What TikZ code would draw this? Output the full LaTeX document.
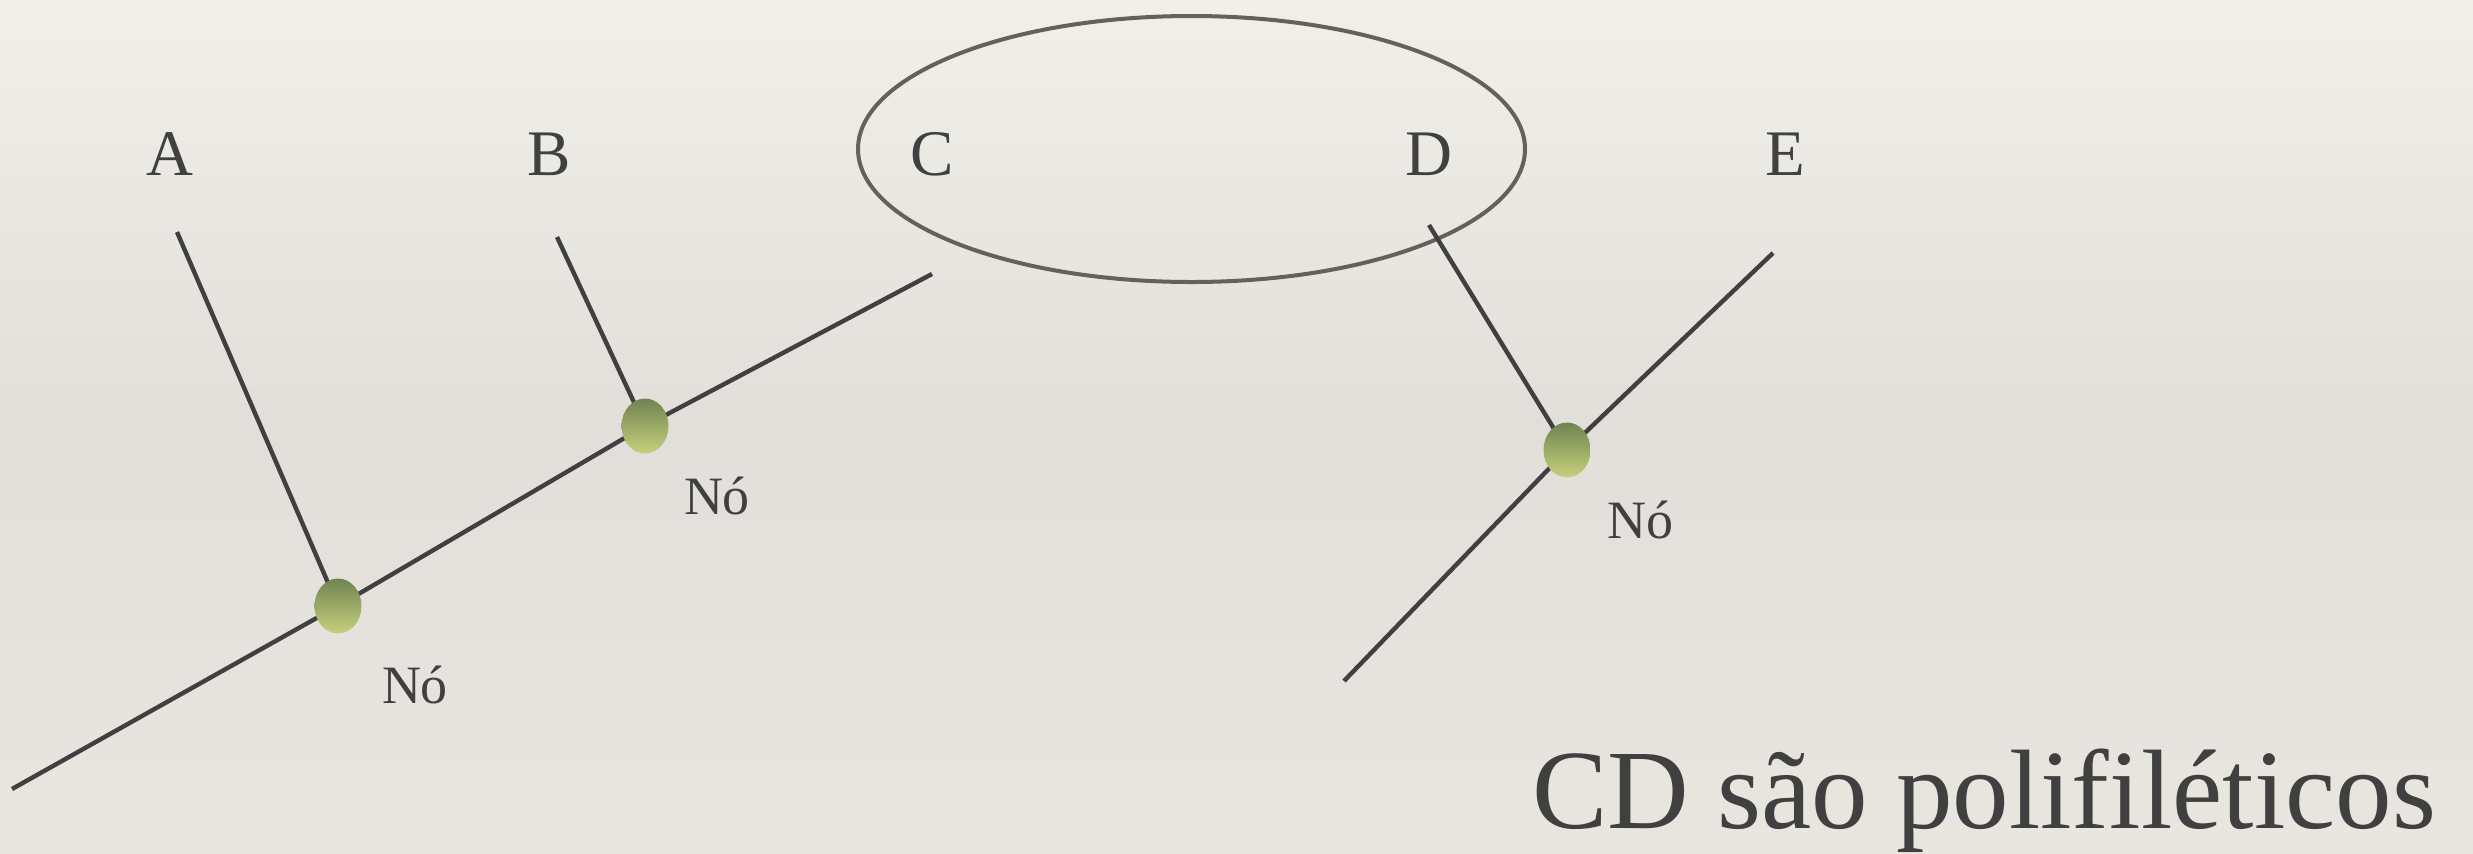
\documentclass[tikz,border=0pt]{standalone}
\usepackage{fontspec}
\setmainfont{Liberation Serif}
\usetikzlibrary{shapes.geometric}
\definecolor{bgtop}{RGB}{241,239,233}
\definecolor{bgmid}{RGB}{226,223,219}
\definecolor{bgbot}{RGB}{233,230,224}
\definecolor{ink}{RGB}{64,64,64}
\definecolor{ringcol}{RGB}{100,97,92}
\definecolor{nodetop}{RGB}{112,132,82}
\definecolor{nodebot}{RGB}{198,208,122}
\tikzset{
  branch/.style={draw=ink, line width=2.2pt},
  knot/.style={ellipse, minimum width=23.5pt, minimum height=27.5pt, inner sep=0pt, top color=nodetop, bottom color=nodebot, draw=none},
  taxon/.style={text=ink, font=\fontsize{32.5}{38}\selectfont, anchor=base, inner sep=0pt},
  knotlabel/.style={text=ink, font=\fontsize{27}{32}\selectfont, anchor=base, inner sep=0pt},
  ring/.style={ellipse, draw=ringcol, line width=2pt, minimum width=333.5pt, minimum height=133pt, inner sep=0pt},
}
\begin{document}
\begin{tikzpicture}[x=0.5pt, y=-0.5pt]
\useasboundingbox (0,0) rectangle (2473,853);
\shade[top color=bgtop, bottom color=bgbot, middle color=bgmid] (0,0) rectangle (2473,853);
% ellipse around C and D
\node[ring] (grp) at (1191.5,149) {};
% taxa labels
\node[taxon] (A) at (170,175) {A};
\node[taxon] (B) at (549,175) {B};
\node[taxon] (C) at (932,175) {C};
\node[taxon] (D) at (1429,175) {D};
\node[taxon] (E) at (1785,175) {E};
% branch ends
\coordinate (root) at (12,789);
\coordinate (cend) at (932,274);
\coordinate (atop) at (177,232);
\coordinate (btop) at (557,237);
\coordinate (dtop) at (1429,225);
\coordinate (etop) at (1773,253);
\coordinate (ebot) at (1344,681);
\coordinate (n1) at (338,606);
\coordinate (n2) at (645,426);
\coordinate (n3) at (1567,450);
% branches
\draw[branch] (root) -- (n1) -- (n2) -- (cend);
\draw[branch] (atop) -- (n1);
\draw[branch] (btop) -- (n2);
\draw[branch] (dtop) -- (n3);
\draw[branch] (etop) -- (n3) -- (ebot);
% nodes
\node[knot] (k1) at (n1) {};
\node[knot] (k2) at (n2) {};
\node[knot] (k3) at (n3) {};
% node labels
\node[knotlabel] (l1) at (415,703) {Nó};
\node[knotlabel] (l2) at (717,514) {Nó};
\node[knotlabel] (l3) at (1640,538) {Nó};
% caption
\node[text=ink, font=\fontsize{56.5}{64}\selectfont, anchor=base, inner sep=0pt] (cap) at (1984,828) {CD são polifiléticos};
\end{tikzpicture}
\end{document}
